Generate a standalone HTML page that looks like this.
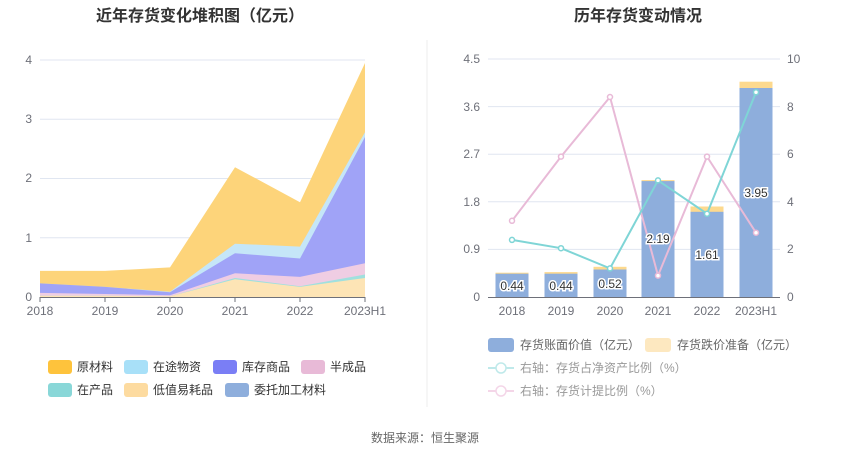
<!DOCTYPE html><html><head><meta charset="utf-8"><style>
body{margin:0;background:#fff;width:850px;height:459px;overflow:hidden;font-family:"Liberation Sans","Noto Sans CJK SC",sans-serif}
</style></head><body>
<svg width="850" height="459" xmlns="http://www.w3.org/2000/svg" font-family="Liberation Sans, Noto Sans CJK SC, sans-serif">
<text x="200" y="21" text-anchor="middle" font-size="16" font-weight="bold" fill="#333">近年存货变化堆积图（亿元）</text>
<text x="638" y="21" text-anchor="middle" font-size="16" font-weight="bold" fill="#333">历年存货变动情况</text>
<line x1="427" y1="40" x2="427" y2="407" stroke="#eee"/>
<g stroke="#e0e6f1">
<line x1="40" y1="60" x2="365" y2="60"/><line x1="40" y1="119.2" x2="365" y2="119.2"/><line x1="40" y1="178.5" x2="365" y2="178.5"/><line x1="40" y1="237.7" x2="365" y2="237.7"/>
</g>
<g font-size="12" fill="#6e7079" text-anchor="end">
<text x="32" y="64">4</text><text x="32" y="123">3</text><text x="32" y="182">2</text><text x="32" y="242">1</text><text x="32" y="301">0</text></g>
<polygon fill="#fdd47a" points="40,270.9 105,270.9 170,267.4 235,167.2 300,202.2 365,63 365,297 40,297"/>
<polygon fill="#c5e6f8" points="40,283.4 105,286.9 170,291.7 235,243.7 300,246.6 365,132.3 365,297 40,297"/>
<polygon fill="#a0a3f7" points="40,283.4 105,286.9 170,292.3 235,253.2 300,258.5 365,137 365,297 40,297"/>
<polygon fill="#efcde3" points="40,292.9 105,294 170,295.2 235,273.3 300,276.9 365,263.2 365,297 40,297"/>
<polygon fill="#a0e0de" points="40,295.8 105,295.8 170,296.4 235,278 300,286.3 365,274.5 365,297 40,297"/>
<polygon fill="#fde4b5" points="40,295.8 105,295.8 170,296.4 235,279.2 300,286.9 365,278 365,297 40,297"/>
<line x1="40" y1="297.5" x2="365" y2="297.5" stroke="#6e7079"/>
<g stroke="#6e7079"><line x1="40" y1="297" x2="40" y2="302"/><line x1="105" y1="297" x2="105" y2="302"/><line x1="170" y1="297" x2="170" y2="302"/><line x1="235" y1="297" x2="235" y2="302"/><line x1="300" y1="297" x2="300" y2="302"/><line x1="365" y1="297" x2="365" y2="302"/></g>
<g font-size="12" fill="#6e7079" text-anchor="middle">
<text x="40" y="315">2018</text><text x="105" y="315">2019</text><text x="170" y="315">2020</text><text x="235" y="315">2021</text><text x="300" y="315">2022</text><text x="365" y="315">2023H1</text></g>
<g font-size="12" fill="#333">
<rect x="48" y="360" width="24" height="14" rx="3" fill="#fec33c"/><text x="77" y="371">原材料</text>
<rect x="124" y="360" width="24" height="14" rx="3" fill="#a8e0f8"/><text x="153" y="371">在途物资</text>
<rect x="213" y="360" width="24" height="14" rx="3" fill="#7a7ef5"/><text x="242" y="371">库存商品</text>
<rect x="301" y="360" width="24" height="14" rx="3" fill="#e8bad7"/><text x="330" y="371">半成品</text>
<rect x="48" y="383" width="24" height="14" rx="3" fill="#89d7d8"/><text x="77" y="394">在产品</text>
<rect x="124" y="383" width="24" height="14" rx="3" fill="#fddba0"/><text x="153" y="394">低值易耗品</text>
<rect x="225" y="383" width="24" height="14" rx="3" fill="#8eaedc"/><text x="254" y="394">委托加工材料</text>
</g>
<g stroke="#e0e6f1">
<line x1="488" y1="59" x2="780" y2="59"/><line x1="488" y1="106.6" x2="780" y2="106.6"/><line x1="488" y1="154.2" x2="780" y2="154.2"/><line x1="488" y1="201.8" x2="780" y2="201.8"/><line x1="488" y1="249.4" x2="780" y2="249.4"/></g>
<g font-size="12" fill="#6e7079" text-anchor="end">
<text x="480" y="63">4.5</text><text x="480" y="111">3.6</text><text x="480" y="158">2.7</text><text x="480" y="206">1.8</text><text x="480" y="253">0.9</text><text x="480" y="301">0</text></g>
<g font-size="12" fill="#6e7079">
<text x="787" y="63">10</text><text x="787" y="111">8</text><text x="787" y="158">6</text><text x="787" y="206">4</text><text x="787" y="253">2</text><text x="787" y="301">0</text></g>
<g fill="#fdd98e">
<rect x="495.5" y="272.7" width="33" height="2"/><rect x="544.5" y="272.1" width="33" height="2"/><rect x="593.5" y="266.8" width="33" height="3"/><rect x="641.5" y="180.1" width="33" height="1.5"/><rect x="690.5" y="206.5" width="33" height="5.5"/><rect x="739.5" y="81.7" width="33" height="6.5"/></g>
<g fill="#8eaedc">
<rect x="495.5" y="273.7" width="33" height="23.3"/><rect x="544.5" y="273.7" width="33" height="23.3"/><rect x="593.5" y="269.5" width="33" height="27.5"/><rect x="641.5" y="181.1" width="33" height="115.9"/><rect x="690.5" y="211.8" width="33" height="85.2"/><rect x="739.5" y="88" width="33" height="209"/></g>
<line x1="488" y1="297.5" x2="780" y2="297.5" stroke="#6e7079"/>
<polyline fill="none" stroke="#e8bad7" stroke-width="2" points="512,220.8 561,156.6 610,97 658,275.6 707,156.6 756,232.7"/>
<polyline fill="none" stroke="#7fd5d6" stroke-width="2" points="512,239.9 561,248.2 610,268.4 658,180.4 707,213.7 756,92.3"/>
<g fill="#fff" stroke="#e8bad7" stroke-width="1.5"><circle cx="512" cy="220.8" r="2.5"/><circle cx="561" cy="156.6" r="2.5"/><circle cx="610" cy="97" r="2.5"/><circle cx="658" cy="275.6" r="2.5"/><circle cx="707" cy="156.6" r="2.5"/><circle cx="756" cy="232.7" r="2.5"/></g>
<g fill="#fff" stroke="#7fd5d6" stroke-width="1.5"><circle cx="512" cy="239.9" r="2.5"/><circle cx="561" cy="248.2" r="2.5"/><circle cx="610" cy="268.4" r="2.5"/><circle cx="658" cy="180.4" r="2.5"/><circle cx="707" cy="213.7" r="2.5"/><circle cx="756" cy="92.3" r="2.5"/></g>
<g font-size="12" fill="#333" text-anchor="middle" stroke="#fff" stroke-width="3" paint-order="stroke">
<text x="512" y="290">0.44</text><text x="561" y="290">0.44</text><text x="610" y="288">0.52</text><text x="658" y="243">2.19</text><text x="707" y="259">1.61</text><text x="756" y="197">3.95</text></g>
<g font-size="12" fill="#6e7079" text-anchor="middle">
<text x="512" y="315">2018</text><text x="561" y="315">2019</text><text x="610" y="315">2020</text><text x="658" y="315">2021</text><text x="707" y="315">2022</text><text x="756" y="315">2023H1</text></g>
<g font-size="12" fill="#666">
<rect x="488" y="338" width="26" height="14" rx="3" fill="#8eaedc"/><text x="520" y="349">存货账面价值（亿元）</text>
<rect x="645" y="338" width="26" height="14" rx="3" fill="#fde8c0"/><text x="677" y="349">存货跌价准备（亿元）</text>
<line x1="488" y1="368" x2="514" y2="368" stroke="#bfe9ea" stroke-width="2"/><circle cx="501" cy="368" r="5" fill="#fff" stroke="#bfe9ea" stroke-width="1.5"/><text x="520" y="372" fill="#999">右轴：存货占净资产比例（%）</text>
<line x1="488" y1="391" x2="514" y2="391" stroke="#f4d6e8" stroke-width="2"/><circle cx="501" cy="391" r="5" fill="#fff" stroke="#f4d6e8" stroke-width="1.5"/><text x="520" y="395" fill="#999">右轴：存货计提比例（%）</text>
</g>
<text x="425" y="442" text-anchor="middle" font-size="12" fill="#666">数据来源：恒生聚源</text>
</svg></body></html>
